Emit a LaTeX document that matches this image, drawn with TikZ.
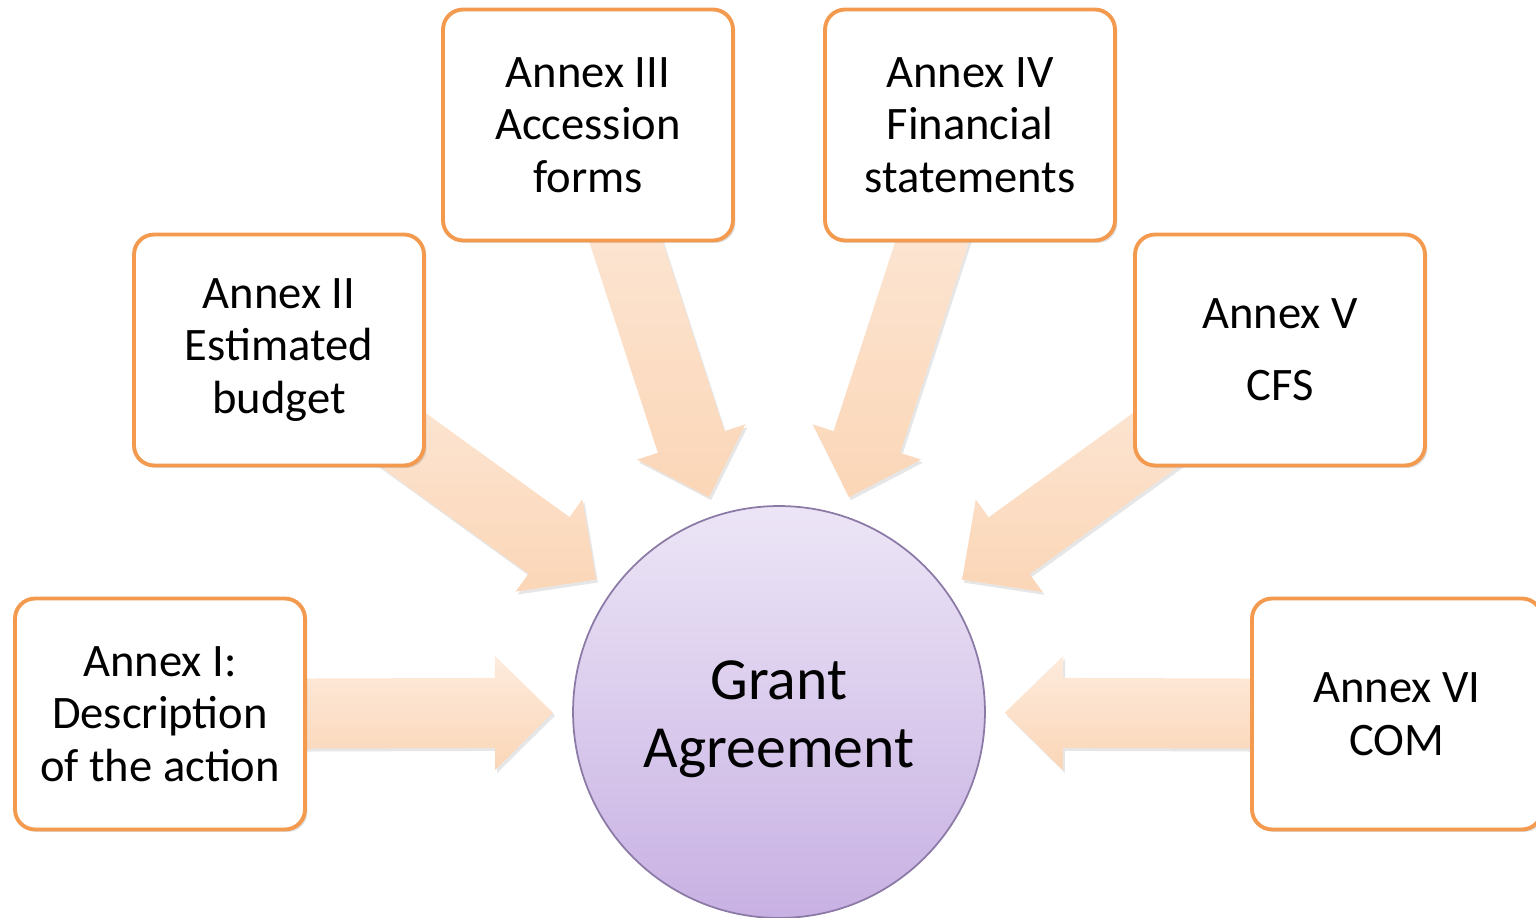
\documentclass[tikz,border=0pt]{standalone}
\usepackage{fontspec}
\setmainfont{Carlito}
\usepackage{tikz}
\usetikzlibrary{calc,shadows,backgrounds}
\definecolor{annexorange}{HTML}{F39A4F}
\definecolor{arrowtop}{HTML}{FDEBDD}
\definecolor{arrowbot}{HTML}{FBD6B7}
\definecolor{gatop}{HTML}{ECE5F6}
\definecolor{gabot}{HTML}{C8B1E3}
\definecolor{gaborder}{HTML}{8C7AA6}
\tikzset{
	annex/.style={draw=annexorange, line width=2.2pt, fill=white, rounded corners=0.4cm,
		minimum width=5.8cm, minimum height=4.62cm, align=center,
		font=\fontsize{26.5}{30}\selectfont,
		drop shadow={shadow xshift=0.05cm, shadow yshift=-0.05cm, opacity=0.25}},
	grant/.style={circle, draw=gaborder, line width=1pt, top color=gatop, bottom color=gabot,
		minimum size=8.24cm, align=center, font=\fontsize{34}{38.6}\selectfont},
	arrowbody/.style={top color=arrowtop, bottom color=arrowbot,
		drop shadow={shadow xshift=0.04cm, shadow yshift=-0.06cm, opacity=0.2}}
}
\def\blockarrow(#1)(#2){
	\coordinate (tip) at ($(#2.center)!4.52cm!(#1.center)$);
	\coordinate (hb) at ($(tip)!1.16cm!(#1.center)$);
	\path[arrowbody] ($(#1.center)!0.7cm!90:(tip)$) -- ($(hb)!0.7cm!90:(tip)$) -- ($(hb)!1.14cm!90:(tip)$)
		-- (tip) -- ($(hb)!1.14cm!-90:(tip)$) -- ($(hb)!0.7cm!-90:(tip)$) -- ($(#1.center)!0.7cm!-90:(tip)$) -- cycle;
}

\begin{document}
\begin{tikzpicture}[x=0.02cm, y=-0.02cm]
			%%%%% START %%%%%
			\useasboundingbox (0, 0) rectangle (1536, 918);
			
			\node[grant] (ga) at (779, 712) {\rule{0pt}{30pt}Grant\\Agreement};
			
			\node[annex] (a1) at (160, 714) {Annex I:\\Description\\of the action};
			\node[annex] (a2) at (279, 350) {Annex II\\Estimated\\budget};
			\node[annex] (a3) at (588, 125) {Annex III\\Accession\\forms};
			\node[annex] (a4) at (970, 125) {Annex IV\\Financial\\statements};
			\node[annex] (a5) at (1280, 350) {Annex V\\[11pt]CFS};
			\node[annex] (a6) at (1397, 714) {Annex VI\\COM};
			
			\begin{scope}[on background layer]
				\blockarrow(a1)(ga)
				\blockarrow(a2)(ga)
				\blockarrow(a3)(ga)
				\blockarrow(a4)(ga)
				\blockarrow(a5)(ga)
				\blockarrow(a6)(ga)
			\end{scope}
			
			%%%%% END %%%%%
\end{tikzpicture}
\end{document}
